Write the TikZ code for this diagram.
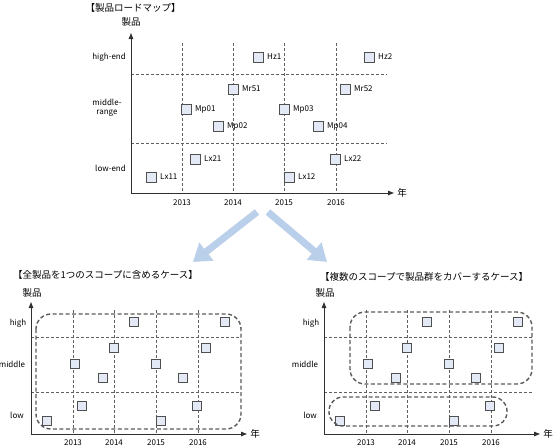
\documentclass[tikz,border=0pt]{standalone}
\usepackage{fontspec}
\setmainfont{Noto Sans CJK JP}
\usetikzlibrary{arrows.meta}
\definecolor{axisc}{HTML}{303030}
\definecolor{gridc}{HTML}{606060}
\definecolor{boxfill}{HTML}{E3EAF5}
\definecolor{boxdraw}{HTML}{505050}
\definecolor{scopec}{HTML}{5A5A5A}
\definecolor{bigarrow}{HTML}{BACFEA}
\tikzset{
  axisline/.style={draw=axisc, line width=1pt, -{Triangle[length=6pt,width=4.5pt]}},
  gridline/.style={draw=gridc, line width=0.6pt, dash pattern=on 3pt off 2pt},
  prodbox/.style={draw=boxdraw, fill=boxfill, line width=0.8pt, minimum size=10pt, inner sep=0pt, outer sep=0pt},
  smallbox/.style={prodbox, minimum size=9pt},
  scopebox/.style={draw=scopec, line width=1.4pt, dash pattern=on 4pt off 2.5pt, rounded corners=15pt},
  lbl/.style={font=\fontsize{8}{9}\selectfont, inner sep=0pt},
  ttl/.style={font=\fontsize{9.5}{11}\selectfont, inner sep=0pt},
  plabel/.style={label={[lbl, label distance=4pt]right:#1}},
  bigarr/.style={draw=bigarrow, line width=7pt, -{Triangle[length=17pt,width=22pt]}, color=bigarrow}
}
\newcommand\minichart[2]{%
  \begin{scope}[shift={(#2,0)}]
    \node[ttl] (t#1) at (32,293) {製品};
    \coordinate (o#1) at (31,434);
    \coordinate (yt#1) at (31,302);
    \coordinate (xt#1) at (247,434);
    \foreach \x/\yr in {73/2013,114/2014,156/2015,198/2016}{
      \draw[gridline] (\x,310) -- (\x,434);
      \node[lbl] at (\x,443) {\yr};
    }
    \draw[gridline] (31,337) -- (240,337);
    \draw[gridline] (31,392) -- (240,392);
    \draw[axisline] (o#1) -- (yt#1);
    \draw[axisline] (o#1) -- (xt#1);
    \node[ttl] (n#1) at (255,434) {年};
    \node[lbl] (h#1) at (18,323) {high};
    \node[lbl] (m#1) at (12,364) {middle};
    \node[lbl] (l#1) at (17,415) {low};
    \foreach \i/\x/\y in {1/134/322,2/225/322,3/114/348,4/206/348,5/75/364,6/156/364,
                          7/103/378,8/183/378,9/82/406,10/197/406,11/47/421,12/161/421}{
      \node[smallbox] (b#1-\i) at (\x,\y) {};
    }
  \end{scope}}
\begin{document}
\begin{tikzpicture}[x=1pt,y=-1pt]
\useasboundingbox (0,0) rectangle (554,447);
% ---------- top chart ----------
\node[ttl] (title) at (133,8) {【製品ロードマップ】};
\node[ttl] (ylab) at (131,22) {製品};
\coordinate (org) at (131,193);
\coordinate (ytop) at (131,33);
\coordinate (xend) at (394,193);
\foreach \x/\yr in {182/2013,233/2014,284/2015,336/2016}{
  \draw[gridline] (\x,43) -- (\x,193);
  \node[lbl] at (\x,203) {\yr};
}
\draw[gridline] (131,74) -- (387,74);
\draw[gridline] (131,143) -- (387,143);
\draw[axisline] (org) -- (ytop);
\draw[axisline] (org) -- (xend);
\node[ttl] (xlab) at (402,193) {年};
\node[lbl, anchor=east] (hi) at (126,57) {high-end};
\node[lbl, align=center] (mid) at (107,108) {middle-\\range};
\node[lbl, anchor=east] (lo) at (126,168) {low-end};
\node[prodbox, plabel=Hz1] (Hz1) at (258,57) {};
\node[prodbox, plabel=Hz2] (Hz2) at (369,57) {};
\node[prodbox, plabel=Mr51] (Mr51) at (233,89) {};
\node[prodbox, plabel=Mr52] (Mr52) at (345,89) {};
\node[prodbox, plabel=Mp01] (Mp01) at (186,109) {};
\node[prodbox, plabel=Mp03] (Mp03) at (284,109) {};
\node[prodbox, plabel=Mp02] (Mp02) at (218,126) {};
\node[prodbox, plabel=Mp04] (Mp04) at (318,126) {};
\node[prodbox, plabel=Lx21] (Lx21) at (195,159) {};
\node[prodbox, plabel=Lx22] (Lx22) at (335,159) {};
\node[prodbox, plabel=Lx11] (Lx11) at (151,177) {};
\node[prodbox, plabel=Lx12] (Lx12) at (289,177) {};
% ---------- big arrows ----------
\coordinate (a1s) at (257,212);
\coordinate (a1e) at (193,262);
\coordinate (a2s) at (268,212);
\coordinate (a2e) at (327,262);
\draw[bigarr] (a1s) -- (a1e);
\draw[bigarr] (a2s) -- (a2e);
% ---------- bottom charts ----------
\node[ttl, anchor=west] (tl) at (13,275) {【全製品を1つのスコープに含めるケース】};
\node[ttl, anchor=west] (tr) at (320,277) {【複数のスコープで製品群をカバーするケース】};
\minichart{L}{0}
\minichart{R}{293}
\draw[scopebox] (36,314) rectangle (241,429);
\draw[scopebox] (350,312) rectangle (532,384);
\draw[scopebox, rounded corners=14pt] (329,397) rectangle (507,426);
\end{tikzpicture}
\end{document}
